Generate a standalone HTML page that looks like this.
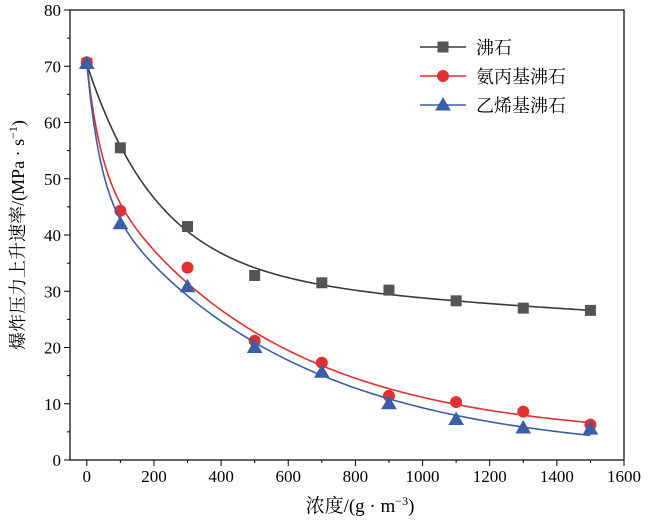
<!DOCTYPE html>
<html><head><meta charset="utf-8"><style>
body{margin:0;background:#fff;}
svg{font-family:"Liberation Serif","Noto Serif CJK SC","Noto Sans CJK SC",serif;}
</style></head><body>
<svg id="chart" width="650" height="523" viewBox="0 0 650 523">
<g id="axes"></g><g id="series"></g><g id="legend"></g>
</svg>
<script>
const categories=[0,100,300,500,700,900,1100,1300,1500];
const zeolite=[70.5,55.5,41.5,32.8,31.5,30.2,28.3,27,26.6];
const aminoZeolite=[70.7,44.3,34.2,21.2,17.3,11.4,10.3,8.6,6.3];
const vinylZeolite=[70.5,42,30.8,20,15.6,10,7.2,5.7,5.5];
const xTicks=[0,200,400,600,800,1000,1200,1400,1600];
const yTicks=[0,10,20,30,40,50,60,70,80];
const seriesNames=["沸石","氨丙基沸石","乙烯基沸石"];

const NS="http://www.w3.org/2000/svg";
const L=70,R=624,T=10,B=460;
const xs=v=>L+(v+50)/1650*(R-L);
const ys=v=>B-v/80*(B-T);
function mk(tag,attrs,parent){const e=document.createElementNS(NS,tag);for(const k in attrs)e.setAttribute(k,attrs[k]);parent.appendChild(e);return e;}
const ax=document.getElementById('axes');
const frame=mk('rect',{x:L,y:T,width:R-L,height:B-T,fill:'none',stroke:'#000','stroke-width':1.2},ax);


xTicks.forEach((v,i)=>{
  const t=mk('line',{x1:xs(v),x2:xs(v),y1:B,y2:B+6,stroke:'#000'},ax);
  
  
  if(i<xTicks.length-1){const m=mk('line',{x1:xs(v+100),x2:xs(v+100),y1:B,y2:B+3,stroke:'#000'},ax);
  
  }
  const tx=mk('text',{x:xs(v),y:B+22,'text-anchor':'middle','font-size':17},ax);tx.textContent=v;
  
  
});
yTicks.forEach((v,i)=>{
  const t=mk('line',{x1:L-6,x2:L,y1:ys(v),y2:ys(v),stroke:'#000'},ax);
  
  
  if(i<yTicks.length-1){const m=mk('line',{x1:L-3,x2:L,y1:ys(v+5),y2:ys(v+5),stroke:'#000'},ax);
  
  }
  const tx=mk('text',{x:L-9,y:ys(v)+6,'text-anchor':'end','font-size':17},ax);tx.textContent=v;
  
  
});
const xl=mk('text',{x:360,y:512,'text-anchor':'middle','font-size':19},ax);
xl.innerHTML='浓度/(g · m<tspan font-size="12" dy="-7">−3</tspan><tspan dy="7">)</tspan>';


const yl=mk('text',{x:0,y:0,'text-anchor':'middle','font-size':18,transform:'translate(24,235) rotate(-90)'},ax);
yl.innerHTML='爆炸压力上升速率/(MPa · s<tspan font-size="12" dy="-7">−1</tspan><tspan dy="7">)</tspan>';



// least-squares fit y = a + b*exp(-x/t1) + c*exp(-x/t2)
function solve3(M,v){const A=M.map((r,i)=>[...r,v[i]]);
  for(let i=0;i<3;i++){let p=i;for(let k=i+1;k<3;k++)if(Math.abs(A[k][i])>Math.abs(A[p][i]))p=k;[A[i],A[p]]=[A[p],A[i]];
    if(Math.abs(A[i][i])<1e-12)return null;
    for(let k=0;k<3;k++)if(k!==i){const f=A[k][i]/A[i][i];for(let j=i;j<4;j++)A[k][j]-=f*A[i][j];}}
  return A.map((r,i)=>r[3]/r[i]);}
function fit(xv,yv){let best=null;
  for(let t1=40;t1<=400;t1+=10)for(let t2=t1*2;t2<=3000;t2+=50){
    const bf=x=>[1,Math.exp(-x/t1),Math.exp(-x/t2)];
    const rows=xv.map(bf);
    const M=[[0,0,0],[0,0,0],[0,0,0]],v=[0,0,0];
    rows.forEach((r,k)=>{for(let i=0;i<3;i++){v[i]+=r[i]*yv[k];for(let j=0;j<3;j++)M[i][j]+=r[i]*r[j];}});
    const c=solve3(M,v);if(!c)continue;let e=0;rows.forEach((r,k)=>{const p=c[0]*r[0]+c[1]*r[1]+c[2]*r[2];e+=(p-yv[k])**2;});
    if(!best||e<best.e)best={e,c,bf};}
  return x=>{const r=best.bf(x);return best.c[0]*r[0]+best.c[1]*r[1]+best.c[2]*r[2];};}
function marker(type,x,y,col,fill,g){
  if(type==='square')return mk('rect',{x:x-5,y:y-5,width:10,height:10,fill:fill,stroke:col},g);
  if(type==='circle')return mk('circle',{cx:x,cy:y,r:5.5,fill:fill,stroke:col},g);
  return mk('polygon',{points:`${x},${y-7} ${x-7},${y+5} ${x+7},${y+5}`,fill:fill,stroke:col},g);}
const sg=document.getElementById('series');
const defs=[[zeolite,'#3a3a3a','#555','square','zeolite'],[aminoZeolite,'#e03030','#e03030','circle','amino-zeolite'],[vinylZeolite,'#3a5fa8','#3a5fa8','triangle','vinyl-zeolite']];
defs.forEach(([data,lc,mc,type,name])=>{
  const f=fit(categories,data);
  const x0=categories[0],x1=categories[categories.length-1];
  let d='';for(let i=0;i<=150;i++){const x=x0+(x1-x0)*i/150;d+=(i?'L':'M')+xs(x).toFixed(2)+','+ys(f(x)).toFixed(2);}
  const p=mk('path',{d:d,fill:'none',stroke:lc,'stroke-width':1.6},sg);
  
  
  categories.forEach((c,i)=>{const m=marker(type,xs(c),ys(data[i]),mc,mc,sg);
    
    });
});
const lg=document.getElementById('legend');
defs.forEach(([data,lc,mc,type,name],i)=>{
  const y=47+i*29;
  const ln=mk('line',{x1:420,x2:466,y1:y,y2:y,stroke:lc,'stroke-width':1.6},lg);
  
  
  const m=marker(type,443,y,mc,mc,lg);
  
  
  const t=mk('text',{x:476,y:y+7,'font-size':18},lg);t.textContent=seriesNames[i];
  
  
});
</script>
</body></html>
